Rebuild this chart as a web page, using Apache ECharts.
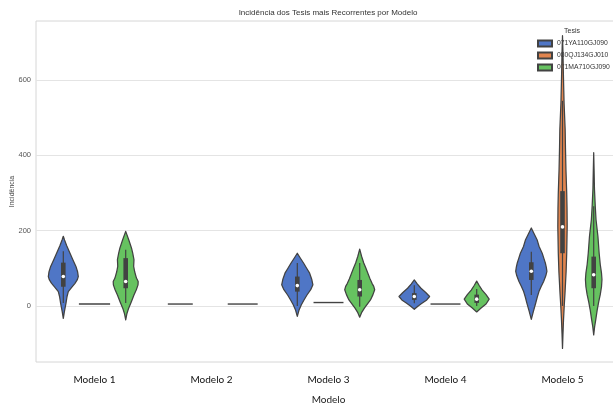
<!DOCTYPE html>
<html><head><meta charset="utf-8">
<script src="https://cdn.jsdelivr.net/npm/echarts@6/dist/echarts.min.js"></script>
<style>html,body{margin:0;padding:0;background:#fff}#c{width:613px;height:406px}</style>
</head><body><div id="c"></div>
<script>
// ---------- DATA ----------
const categories = ['Modelo 1', 'Modelo 2', 'Modelo 3', 'Modelo 4', 'Modelo 5'];
const tesis = ['071YA110GJ090', '080QJ134GJ010', '071MA710GJ090'];
const yTicks = [0, 200, 400, 600];

// violin profiles: [value, relative density]
const blue1Profile = [[-33,0],[-15,0.07],[7,0.17],[25,0.24],[38,0.32],[50,0.55],[60,0.75],[70,0.9],[78,0.96],[90,0.92],[105,0.81],[122,0.62],[140,0.43],[160,0.22],[175,0.08],[185,0]];
const blue2Profile = [[5,0.8]];
const blue3Profile = [[-28,0],[-10,0.12],[3,0.26],[15,0.42],[29,0.62],[43,0.86],[56,1.0],[70,0.93],[87,0.79],[100,0.6],[114,0.4],[128,0.18],[140,0]];
const blue4Profile = [[-9,0],[0,0.25],[7,0.49],[16,0.8],[25,0.98],[35,0.75],[47,0.43],[58,0.2],[69,0]];
const blue5Profile = [[-36,0],[-15,0.13],[7,0.28],[23,0.38],[38,0.49],[52,0.64],[65,0.79],[80,0.93],[92,1.0],[103,0.96],[114,0.9],[127,0.8],[140,0.7],[158,0.5],[176,0.37],[192,0.18],[207,0]];

const orange1Profile = [[5,1.0]];
const orange3Profile = [[9,0.96]];
const orange4Profile = [[5,0.96]];
const orange5Profile = [[-113,0],[-75,0.03],[-37,0.065],[0,0.11],[34,0.16],[90,0.23],[140,0.27],[211,0.3],[260,0.29],[300,0.27],[363,0.22],[420,0.19],[469,0.17],[540,0.1],[610,0.06],[674,0.03],[718,0]];

const green1Profile = [[-37,0],[-20,0.08],[-6,0.19],[10,0.35],[29,0.53],[43,0.68],[56,0.79],[65,0.8],[74,0.69],[90,0.58],[105,0.51],[123,0.53],[140,0.45],[154,0.37],[175,0.2],[198,0]];
const green2Profile = [[5,0.96]];
const green3Profile = [[-30,0],[-18,0.12],[-6,0.3],[16,0.69],[30,0.85],[43,0.96],[52,0.9],[60,0.79],[72,0.66],[83,0.56],[100,0.4],[114,0.26],[132,0.12],[151,0]];
const green4Profile = [[-16,0],[-5,0.3],[5,0.6],[18,0.8],[30,0.6],[42,0.35],[55,0.15],[66,0]];
const green5Profile = [[-77,0],[-55,0.06],[-37,0.13],[-12,0.22],[11,0.32],[30,0.42],[51,0.5],[70,0.53],[87,0.5],[110,0.42],[140,0.35],[185,0.27],[229,0.15],[265,0.1],[310,0.05],[360,0.025],[407,0]];

// inner boxes: [whiskerLow, q1, median, q3, whiskerHigh]
const blue1Box = [8, 51, 78, 115, 145];
const blue3Box = [0, 38, 54, 78, 114];
const blue4Box = [7, 16, 25, 34, 55];
const blue5Box = [29, 69, 92, 116, 144];
const orange5Box = [0, 140, 210, 305, 545];
const green1Box = [8, 47, 65, 127, 149];
const green3Box = [-2, 25, 43, 69, 114];
const green4Box = [0, 8, 18, 30, 45];
const green5Box = [0, 47, 83, 131, 265];

// ---------- BUILD ----------
const V = (profile, box) => ({ profile, box });
const violins = [
  [V(blue1Profile, blue1Box), V(blue2Profile, null), V(blue3Profile, blue3Box), V(blue4Profile, blue4Box), V(blue5Profile, blue5Box)],
  [V(orange1Profile, null), null, V(orange3Profile, null), V(orange4Profile, null), V(orange5Profile, orange5Box)],
  [V(green1Profile, green1Box), V(green2Profile, null), V(green3Profile, green3Box), V(green4Profile, green4Box), V(green5Profile, green5Box)]
];
const colors = ['#4f76c6', '#e0844e', '#66c260'];
const outline = '#424242';

function makeRender(h) {
  return function (params, api) {
    const i = api.value(0);
    const vio = violins[h][i];
    if (!vio) return;
    const band = api.size([1, 0])[0];
    const slot = band * 0.8 / 3;
    const cx = api.coord([i, 0])[0] + (h - 1) * slot;
    const hw = slot / 2;
    const children = [];
    const prof = vio.profile;
    if (prof.length === 1) {
      const y = api.coord([i, prof[0][0]])[1];
      children.push({ type: 'line', shape: { x1: cx - prof[0][1] * hw, y1: y, x2: cx + prof[0][1] * hw, y2: y },
        style: { stroke: outline, lineWidth: 1.4 } });
    } else {
      const pts = [];
      prof.forEach(p => pts.push([cx + p[1] * hw, api.coord([i, p[0]])[1]]));
      for (let k = prof.length - 1; k >= 0; k--) pts.push([cx - prof[k][1] * hw, api.coord([i, prof[k][0]])[1]]);
      children.push({ type: 'polygon', shape: { points: pts },
        style: { fill: colors[h], stroke: outline, lineWidth: 1.25, lineJoin: 'round' } });
    }
    if (vio.box) {
      const b = vio.box.map(v => api.coord([i, v])[1]);
      children.push({ type: 'line', shape: { x1: cx, y1: b[0], x2: cx, y2: b[4] }, style: { stroke: outline, lineWidth: 1.2 } });
      children.push({ type: 'rect', shape: { x: cx - 2.3, y: b[3], width: 4.6, height: b[1] - b[3] }, style: { fill: outline } });
      children.push({ type: 'circle', shape: { cx: cx, cy: b[2], r: 1.8 }, style: { fill: '#ffffff' } });
    }
    return { type: 'group', children };
  };
}

const series = tesis.map((name, h) => ({
  name: name,
  type: 'custom',
  z: 3,
  itemStyle: { color: colors[h], borderColor: outline, borderWidth: 0.5 },
  renderItem: makeRender(h),
  data: categories.map((c, i) => [i]).filter(d => violins[h][d[0]])
}));

const chart = echarts.init(document.getElementById('c'), null, { renderer: 'canvas' });
chart.setOption({
  animation: false,
  backgroundColor: '#ffffff',
  title: [
    { text: 'Incidência dos Tesis mais Recorrentes por Modelo', left: 328, top: 9, textAlign: 'center', padding: 0,
      textStyle: { fontSize: 8, fontWeight: 'normal', color: '#333', fontFamily: 'Liberation Sans' } },
    { text: 'Tesis', left: 572, top: 28, textAlign: 'center', padding: 0,
      textStyle: { fontSize: 7, fontWeight: 'normal', color: '#333', fontFamily: 'Liberation Sans' } }
  ],
  legend: {
    data: tesis, orient: 'vertical', left: 537, top: 39, z: 1, padding: 0,
    icon: 'rect', itemWidth: 14, itemHeight: 6, itemGap: 3,
    textStyle: { fontSize: 6.8, color: '#333', fontFamily: 'Liberation Sans', lineHeight: 9 }
  },
  grid: { left: 36, top: 21, bottom: 44, right: -8, outerBoundsMode: 'none', containLabel: false,
    show: true, borderColor: '#d6d6d6', borderWidth: 1 },
  xAxis: {
    type: 'category', data: categories, boundaryGap: true,
    name: 'Modelo', nameLocation: 'middle', nameGap: 33, nameMoveOverlap: false,
    nameTextStyle: { fontSize: 10, color: '#222', fontFamily: 'Lato' },
    axisLine: { show: false }, axisTick: { show: false },
    axisLabel: { fontSize: 10, color: '#111', fontFamily: 'Lato', margin: 13 },
    splitLine: { show: false }
  },
  yAxis: {
    type: 'value', min: -149, max: 757,
    name: 'Incidência', nameLocation: 'middle', nameGap: 20, nameMoveOverlap: false,
    nameTextStyle: { fontSize: 7, color: '#444', fontFamily: 'Liberation Sans' },
    axisLine: { show: false },
    axisTick: { show: false, customValues: yTicks },
    axisLabel: { fontSize: 7.5, color: '#555', fontFamily: 'Liberation Sans', margin: 5, customValues: yTicks },
    splitLine: { show: true, lineStyle: { color: '#e4e4e4', width: 1 } }
  },
  series: series
});
</script>
</body></html>
